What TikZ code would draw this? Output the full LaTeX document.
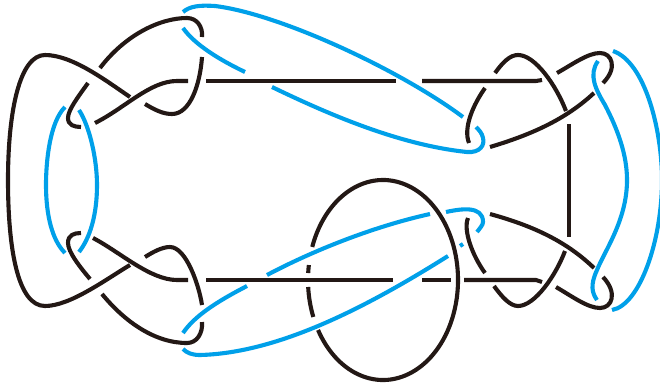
\documentclass[tikz,border=0pt]{standalone}
\definecolor{kblack}{HTML}{231815}
\definecolor{kblue}{HTML}{00A0E9}
\tikzset{
  bk/.style={draw=kblack,line width=4.1pt,line join=round},
  bl/.style={draw=kblue,line width=4.1pt,line join=round}
}
\begin{document}
\begin{tikzpicture}[x=1pt,y=-1pt]
\useasboundingbox (0,0) rectangle (660,383);
\clip (0,0) rectangle (660,383);
% left side, black
\draw[bk] (130,97) .. controls (105,80) and (72,55) .. (45,55) .. controls (20,55) and (8,110) .. (8,180) .. controls (8,250) and (18,306) .. (45,306) .. controls (70,306) and (105,280) .. (130,265);
\draw[bk] (100,68) .. controls (125,35) and (160,18) .. (187,18) .. controls (197,18) and (203,27) .. (202,37);
\draw[bk] (202,57) .. controls (200,85) and (190,114) .. (172,114) .. controls (163,114) and (155,110) .. (145,104);
\draw[bk] (88,83) .. controls (78,97) and (68,110) .. (68,118) .. controls (68,125) and (74,127) .. (81,127);
\draw[bk] (95,123) .. controls (125,108) and (150,81) .. (177,81) -- (188,81);
\draw[bk] (81,233) .. controls (74,233) and (68,235) .. (68,243) .. controls (68,252) and (80,267) .. (90,279);
\draw[bk] (93,238) .. controls (120,252) and (150,280) .. (177,280) -- (188,280);
\draw[bk] (145,257) .. controls (153,252) and (162,247) .. (170,247) .. controls (186,247) and (199,285) .. (202,305);
\draw[bk] (202,322) .. controls (203,333) and (197,343) .. (187,343) .. controls (155,343) and (125,322) .. (102,294);
% horizontal strands
\draw[bk] (206,81) -- (396,81);
\draw[bk] (422,81) -- (536,81) -- (542,80);
\draw[bk] (206,280) -- (393,280);
\draw[bk] (422,280) -- (451,280);
\draw[bk] (464,280) -- (536,280) -- (542,282);
\draw[bk] (569,124) -- (569,237);
% upper right, black
\draw[bk] (495,73) .. controls (503,62) and (510,55) .. (518,55) .. controls (535,55) and (556,85) .. (566,111);
\draw[bk] (557,73) .. controls (573,64) and (588,53) .. (600,53) .. controls (612,53) and (618,68) .. (603,83);
\draw[bk] (594,93) .. controls (565,120) and (530,135) .. (490,147);
\draw[bk] (485,88) .. controls (473,105) and (463,128) .. (469,143);
% lower right, black
\draw[bk] (468,218) .. controls (463,230) and (472,255) .. (485,273);
\draw[bk] (494,286) .. controls (502,297) and (510,306) .. (518,306) .. controls (535,306) and (556,275) .. (565,251);
\draw[bk] (490,214) .. controls (530,225) and (565,240) .. (594,268);
\draw[bk] (556,287) .. controls (573,297) and (588,308) .. (600,308) .. controls (612,308) and (618,293) .. (603,277);
% ellipse
\draw[bk] (383,280) ++(160.7:75 and -100) arc[start angle=160.7,end angle=-150,x radius=75,y radius=-100];
\draw[bk] (383,280) ++(171.4:75 and -100) arc[start angle=171.4,end angle=176,x radius=75,y radius=-100];
\draw[bk] (383,280) ++(184:75 and -100) arc[start angle=184,end angle=201.7,x radius=75,y radius=-100];
% blue
\draw[bl] (65,107) .. controls (50,122) and (46,160) .. (46,185) .. controls (46,215) and (52,240) .. (65,253);
\draw[bl] (79,110) .. controls (90,127) and (97,160) .. (97,185) .. controls (97,215) and (90,238) .. (79,252);
\draw[bl] (183,12) .. controls (190,6) and (200,5) .. (215,6) .. controls (280,14) and (400,70) .. (463,117);
\draw[bl] (183,28) .. controls (195,45) and (220,60) .. (245,72);
\draw[bl] (272,87) .. controls (330,115) and (400,145) .. (467,152) .. controls (480,153) and (485,145) .. (483,138) .. controls (482,133) and (479,130) .. (476,127);
\draw[bl] (183,333) .. controls (195,315) and (220,300) .. (247,286);
\draw[bl] (267,275) .. controls (320,247) and (380,225) .. (430,214);
\draw[bl] (446,212) .. controls (460,209) and (483,205) .. (483,222) .. controls (483,225) and (480,228) .. (477,232);
\draw[bl] (460,246) -- (463,244);
\draw[bl] (448,256) .. controls (370,305) and (280,353) .. (200,355) .. controls (192,355) and (187,353) .. (183,349);
\draw[bl] (598,61) .. controls (588,75) and (596,90) .. (605,105) .. controls (618,130) and (627,155) .. (627,180) .. controls (627,220) and (605,250) .. (597,270) .. controls (590,285) and (592,293) .. (597,300);
\draw[bl] (613,51) .. controls (645,62) and (662,130) .. (662,180) .. controls (662,240) and (640,305) .. (612,310);
\end{tikzpicture}
\end{document}
